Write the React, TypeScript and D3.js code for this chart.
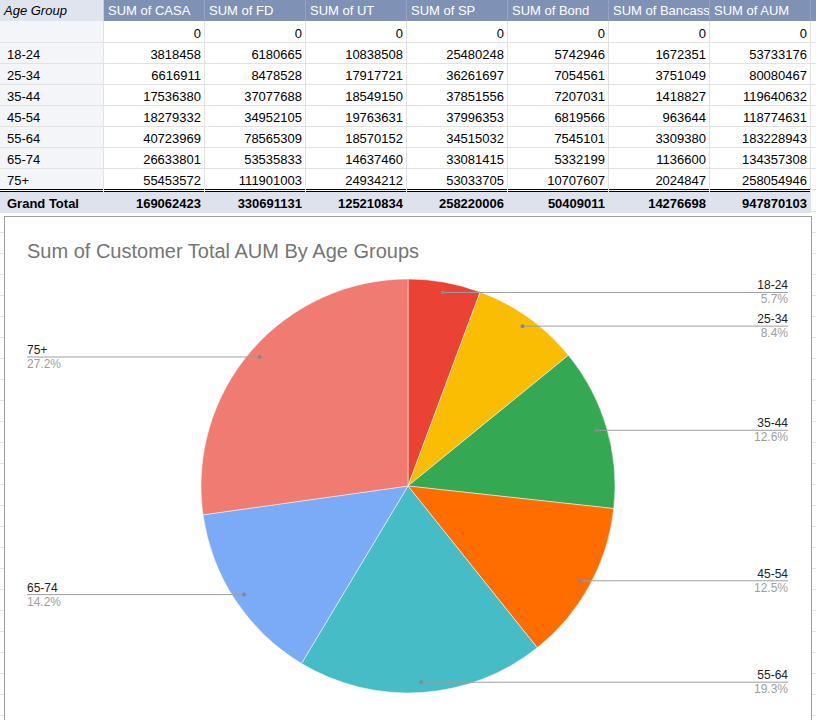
import { useEffect, useRef } from "react";
import * as d3 from "d3";

const headers = [
  "Age Group",
  "SUM of CASA",
  "SUM of FD",
  "SUM of UT",
  "SUM of SP",
  "SUM of Bond",
  "SUM of Bancass",
  "SUM of AUM",
];

const ageGroups = ["", "18-24", "25-34", "35-44", "45-54", "55-64", "65-74", "75+"];
const casa = [0, 3818458, 6616911, 17536380, 18279332, 40723969, 26633801, 55453572];
const fd = [0, 6180665, 8478528, 37077688, 34952105, 78565309, 53535833, 111901003];
const ut = [0, 10838508, 17917721, 18549150, 19763631, 18570152, 14637460, 24934212];
const sp = [0, 25480248, 36261697, 37851556, 37996353, 34515032, 33081415, 53033705];
const bond = [0, 5742946, 7054561, 7207031, 6819566, 7545101, 5332199, 10707607];
const bancass = [0, 1672351, 3751049, 1418827, 963644, 3309380, 1136600, 2024847];
const aum = [0, 53733176, 80080467, 119640632, 118774631, 183228943, 134357308, 258054946];
const grandTotal = [169062423, 330691131, 125210834, 258220006, 50409011, 14276698, 947870103];

const sliceColors = ["#4285f4", "#ea4335", "#fbbc04", "#34a853", "#ff6d01", "#46bdc6", "#7baaf7", "#f07b72"];

const chartTitle = "Sum of Customer Total AUM By Age Groups";

export default function App() {
  const svgRef = useRef<SVGSVGElement>(null);

  useEffect(() => {
    if (!svgRef.current) return;
    const width = 816;
    const height = 720;
    const svg = d3.select(svgRef.current);
    svg.selectAll("*").remove();
    svg.attr("width", width).attr("height", height);

    const font = "Arial, 'Liberation Sans', sans-serif";

    // ---- spreadsheet table ----
    const firstColW = 104;
    const colW = 101;
    const colX = (i: number) => (i === 0 ? 0 : firstColW + (i - 1) * colW);
    const colWidth = (i: number) => (i === 0 ? firstColW : colW);
    const headerH = 21;
    const rowH = 21;
    const rowY = d3
      .scaleLinear()
      .domain([0, 1])
      .range([headerH + 1, headerH + 1 + rowH]);

    const g = svg.append("g");

    g.append("rect").attr("width", width).attr("height", height).attr("fill", "#fff");

    // background grid lines beneath the chart
    for (let y = 211.5; y < height; y += 21) {
      g.append("line")
        .attr("x1", 0)
        .attr("x2", width)
        .attr("y1", y)
        .attr("y2", y)
        .attr("stroke", "#e2e2e2");
    }

    // header row
    headers.forEach((h, i) => {
      g.append("rect")
        .attr("x", colX(i))
        .attr("y", 0)
        .attr("width", colWidth(i))
        .attr("height", headerH)
        .attr("fill", i === 0 ? "#dfe4ee" : "#7f92b5");
      g.append("line")
        .attr("x1", colX(i) + colWidth(i) - 0.5)
        .attr("x2", colX(i) + colWidth(i) - 0.5)
        .attr("y1", 0)
        .attr("y2", headerH)
        .attr("stroke", i === 0 ? "#c8cfdc" : "#93a3c1");
    });
    g.append("rect")
      .attr("x", colX(8))
      .attr("y", 0)
      .attr("width", width - colX(8))
      .attr("height", headerH)
      .attr("fill", "#7f92b5");

    const clip = svg.append("defs");
    headers.forEach((_, i) => {
      clip
        .append("clipPath")
        .attr("id", `hc${i}`)
        .append("rect")
        .attr("x", colX(i) + 2)
        .attr("y", 0)
        .attr("width", colWidth(i) - 3)
        .attr("height", headerH);
    });

    headers.forEach((h, i) => {
      g.append("text")
        .attr("x", colX(i) + 4)
        .attr("y", 15)
        .attr("clip-path", `url(#hc${i})`)
        .attr("fill", i === 0 ? "#000" : "#fff")
        .style("font-family", font)
        .style("font-size", "13px")
        .style("font-style", i === 0 ? "italic" : "normal")
        .text(h);
    });

    const columns = [casa, fd, ut, sp, bond, bancass, aum];

    ageGroups.forEach((age, r) => {
      const y0 = r === 0 ? headerH : rowY(r);
      const y1 = rowY(r + 1);
      g.append("rect")
        .attr("x", 0)
        .attr("y", y0)
        .attr("width", firstColW)
        .attr("height", y1 - y0)
        .attr("fill", "#f3f5f9");
      g.append("line")
        .attr("x1", 0)
        .attr("x2", width)
        .attr("y1", y1 - 0.5)
        .attr("y2", y1 - 0.5)
        .attr("stroke", "#e2e2e2");
      g.append("text")
        .attr("x", 7)
        .attr("y", y1 - 5)
        .attr("fill", "#000")
        .style("font-family", font)
        .style("font-size", "13px")
        .text(age);
      columns.forEach((col, c) => {
        g.append("text")
          .attr("x", colX(c + 1) + colW - 4)
          .attr("y", y1 - 5)
          .attr("text-anchor", "end")
          .attr("fill", "#000")
          .style("font-family", font)
          .style("font-size", "13px")
          .text(String(col[r]));
      });
    });

    // grand total row
    const gtY0 = rowY(ageGroups.length) + 2;
    const gtY1 = gtY0 + 21;
    g.append("rect")
      .attr("x", 0)
      .attr("y", gtY0)
      .attr("width", colX(8))
      .attr("height", gtY1 - gtY0)
      .attr("fill", "#dde2ec");
    g.append("line")
      .attr("x1", 0)
      .attr("x2", colX(8))
      .attr("y1", gtY0 - 2.5)
      .attr("y2", gtY0 - 2.5)
      .attr("stroke", "#000");
    g.append("line")
      .attr("x1", 0)
      .attr("x2", colX(8))
      .attr("y1", gtY0 - 0.5)
      .attr("y2", gtY0 - 0.5)
      .attr("stroke", "#000");
    g.append("text")
      .attr("x", 7)
      .attr("y", gtY1 - 5)
      .attr("fill", "#000")
      .style("font-family", font)
      .style("font-size", "13px")
      .style("font-weight", "bold")
      .text("Grand Total");
    grandTotal.forEach((v, c) => {
      g.append("text")
        .attr("x", colX(c + 1) + colW - 4)
        .attr("y", gtY1 - 5)
        .attr("text-anchor", "end")
        .attr("fill", "#000")
        .style("font-family", font)
        .style("font-size", "13px")
        .style("font-weight", "bold")
        .text(String(v));
    });

    // vertical column lines
    for (let i = 1; i <= 8; i++) {
      g.append("line")
        .attr("x1", colX(i) - 0.5)
        .attr("x2", colX(i) - 0.5)
        .attr("y1", headerH)
        .attr("y2", gtY1)
        .attr("stroke", "#e2e2e2");
    }

    // ---- chart box ----
    const box = { x: 4.5, y: 216.5, w: 807, h: 520 };
    g.append("rect")
      .attr("x", box.x)
      .attr("y", box.y)
      .attr("width", box.w)
      .attr("height", box.h)
      .attr("fill", "#fff")
      .attr("stroke", "#9e9e9e");

    g.append("text")
      .attr("x", 27)
      .attr("y", 258)
      .attr("fill", "#757575")
      .style("font-family", font)
      .style("font-size", "20px")
      .text(chartTitle);

    const cx = 408;
    const cy = 486;
    const radius = 207;
    const total = d3.sum(aum);

    const pie = d3
      .pie<number>()
      .sort(null)
      .value((d) => d);
    const arcs = pie(aum);
    const arc = d3.arc<d3.PieArcDatum<number>>().innerRadius(0).outerRadius(radius);
    const dotArc = d3
      .arc<d3.PieArcDatum<number>>()
      .innerRadius(radius * 0.95)
      .outerRadius(radius * 0.95);

    const pg = g.append("g").attr("transform", `translate(${cx},${cy})`);

    pg.selectAll("path")
      .data(arcs.filter((a) => a.value > 0))
      .join("path")
      .attr("d", arc)
      .attr("fill", (d) => sliceColors[d.index])
      .attr("stroke", "#fff")
      .attr("stroke-width", 0.5);

    const labelRight = 788;
    const labelLeft = 27;

    arcs
      .filter((a) => a.value > 0)
      .forEach((a) => {
        const [dx, dy] = dotArc.centroid(a);
        const px = cx + dx;
        const py = cy + dy;
        const right = dx >= 0;
        const lx = right ? labelRight : labelLeft;
        g.append("line")
          .attr("x1", px)
          .attr("x2", lx)
          .attr("y1", py)
          .attr("y2", py)
          .attr("stroke", "#9e9e9e")
          .attr("stroke-width", 1);
        g.append("circle")
          .attr("cx", px)
          .attr("cy", py)
          .attr("r", 2)
          .attr("fill", "#888");
        g.append("text")
          .attr("x", lx)
          .attr("y", py - 3)
          .attr("text-anchor", right ? "end" : "start")
          .attr("fill", "#222")
          .style("font-family", font)
          .style("font-size", "12px")
          .text(ageGroups[a.index]);
        g.append("text")
          .attr("x", lx)
          .attr("y", py + 11)
          .attr("text-anchor", right ? "end" : "start")
          .attr("fill", "#9e9e9e")
          .style("font-family", font)
          .style("font-size", "12px")
          .text(`${((a.value / total) * 100).toFixed(1)}%`);
      });
  }, []);

  return (
    <svg
      ref={svgRef}
      style={{ position: "absolute", left: 0, top: 0, display: "block" }}
      viewBox="0 0 816 720"
    />
  );
}
